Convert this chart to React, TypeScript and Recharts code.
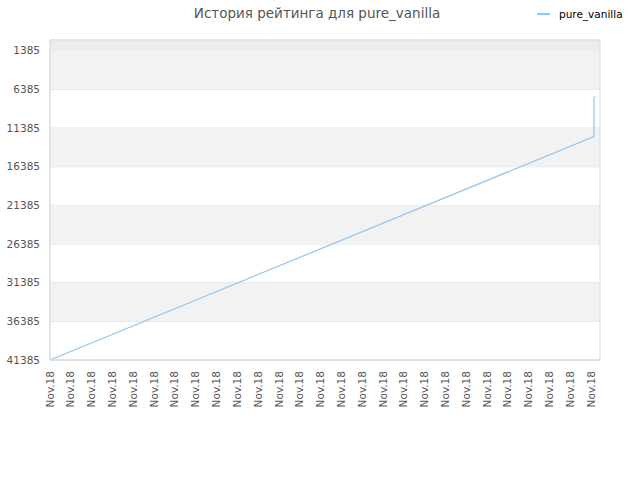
import React from 'react';
import { LineChart, Line, XAxis, YAxis, CartesianGrid, ReferenceArea } from 'recharts';

const chartTitle = 'История рейтинга для pure_vanilla';
const seriesName = 'pure_vanilla';

// x positions of the tick labels (all in the same month)
const tickPositions = [0, 1, 2, 3, 4, 5, 6, 7, 8, 9, 10, 11, 12, 13, 14, 15, 16, 17, 18, 19, 20, 21, 22, 23, 24, 25, 26];
const tickLabels = tickPositions.map(() => 'Nov.18');

const rankTicks = [1385, 6385, 11385, 16385, 21385, 26385, 31385, 36385, 41385];

// rating history points
const pointX = [0, 26.15, 26.15, 26.2];
const pointRank = [41385, 12480, 7600, 7300];

const bands: [number, number, string][] = [
    [0, 1385, '#ececec'],
    [1385, 6385, '#f2f2f2'],
    [11385, 16385, '#f2f2f2'],
    [21385, 26385, '#f2f2f2'],
    [31385, 36385, '#f2f2f2'],
];

const data = pointX.map((x, i) => ({ x, rank: pointRank[i] }));

const XTick = (props: any) => {
    const { x, y, payload } = props;
    const idx = tickPositions.indexOf(payload.value);
    return (
        <g transform={`translate(${x},${y})`}>
            <text
                transform="rotate(-90)"
                x={-11}
                y={0}
                dy="0.35em"
                textAnchor="end"
                fill="#555"
                fontSize={10.5}
                fontFamily="DejaVu Sans"
            >
                {tickLabels[idx] ?? ''}
            </text>
        </g>
    );
};

const App: React.FC = () => {
    const xMax = 26.44;
    return (
        <div style={{ position: 'absolute', left: 0, top: 0, width: 640, height: 480, fontFamily: 'DejaVu Sans' }}>
            <div style={{ position: 'absolute', left: 0, top: 5, width: 634, textAlign: 'center', fontSize: 13.5, color: '#555' }}>
                {chartTitle}
            </div>
            <div style={{ position: 'absolute', left: 537, top: 8, display: 'flex', alignItems: 'center', fontSize: 10.5, color: '#000' }}>
                <span style={{ display: 'inline-block', width: 13, height: 1.5, background: '#92c4f2', marginRight: 9 }} />
                <span>{seriesName}</span>
            </div>
            <LineChart width={640} height={480} data={data} margin={{ top: 40, right: 40, left: 0, bottom: 0 }}>
                {bands.map(([a, b, c], i) => (
                    <ReferenceArea key={i} x1={0} x2={xMax} y1={a} y2={b} fill={c} fillOpacity={1} stroke="none" ifOverflow="hidden" />
                ))}
                <CartesianGrid vertical={false} stroke="#e0e0e0" />
                <ReferenceArea x1={0} x2={xMax} y1={0} y2={41385} fill="none" stroke="#dcdcdc" strokeWidth={1} />
                <XAxis
                    dataKey="x"
                    type="number"
                    domain={[0, xMax]}
                    ticks={tickPositions}
                    interval={0}
                    height={120}
                    tickLine={false}
                    tickSize={0}
                    tickMargin={0}
                    axisLine={{ stroke: '#dcdcdc' }}
                    tick={<XTick />}
                />
                <YAxis
                    type="number"
                    reversed
                    domain={[0, 41385]}
                    ticks={rankTicks}
                    interval={0}
                    width={50}
                    tickLine={false}
                    tickSize={4}
                    tickMargin={6}
                    axisLine={{ stroke: '#dcdcdc' }}
                    tick={{ fill: '#555', fontSize: 10.5, fontFamily: 'DejaVu Sans' }}
                />
                <Line
                    type="linear"
                    dataKey="rank"
                    name={seriesName}
                    stroke="#92c4f2"
                    strokeWidth={1.2}
                    dot={false}
                    isAnimationActive={false}
                />
            </LineChart>
        </div>
    );
};

export default App;
